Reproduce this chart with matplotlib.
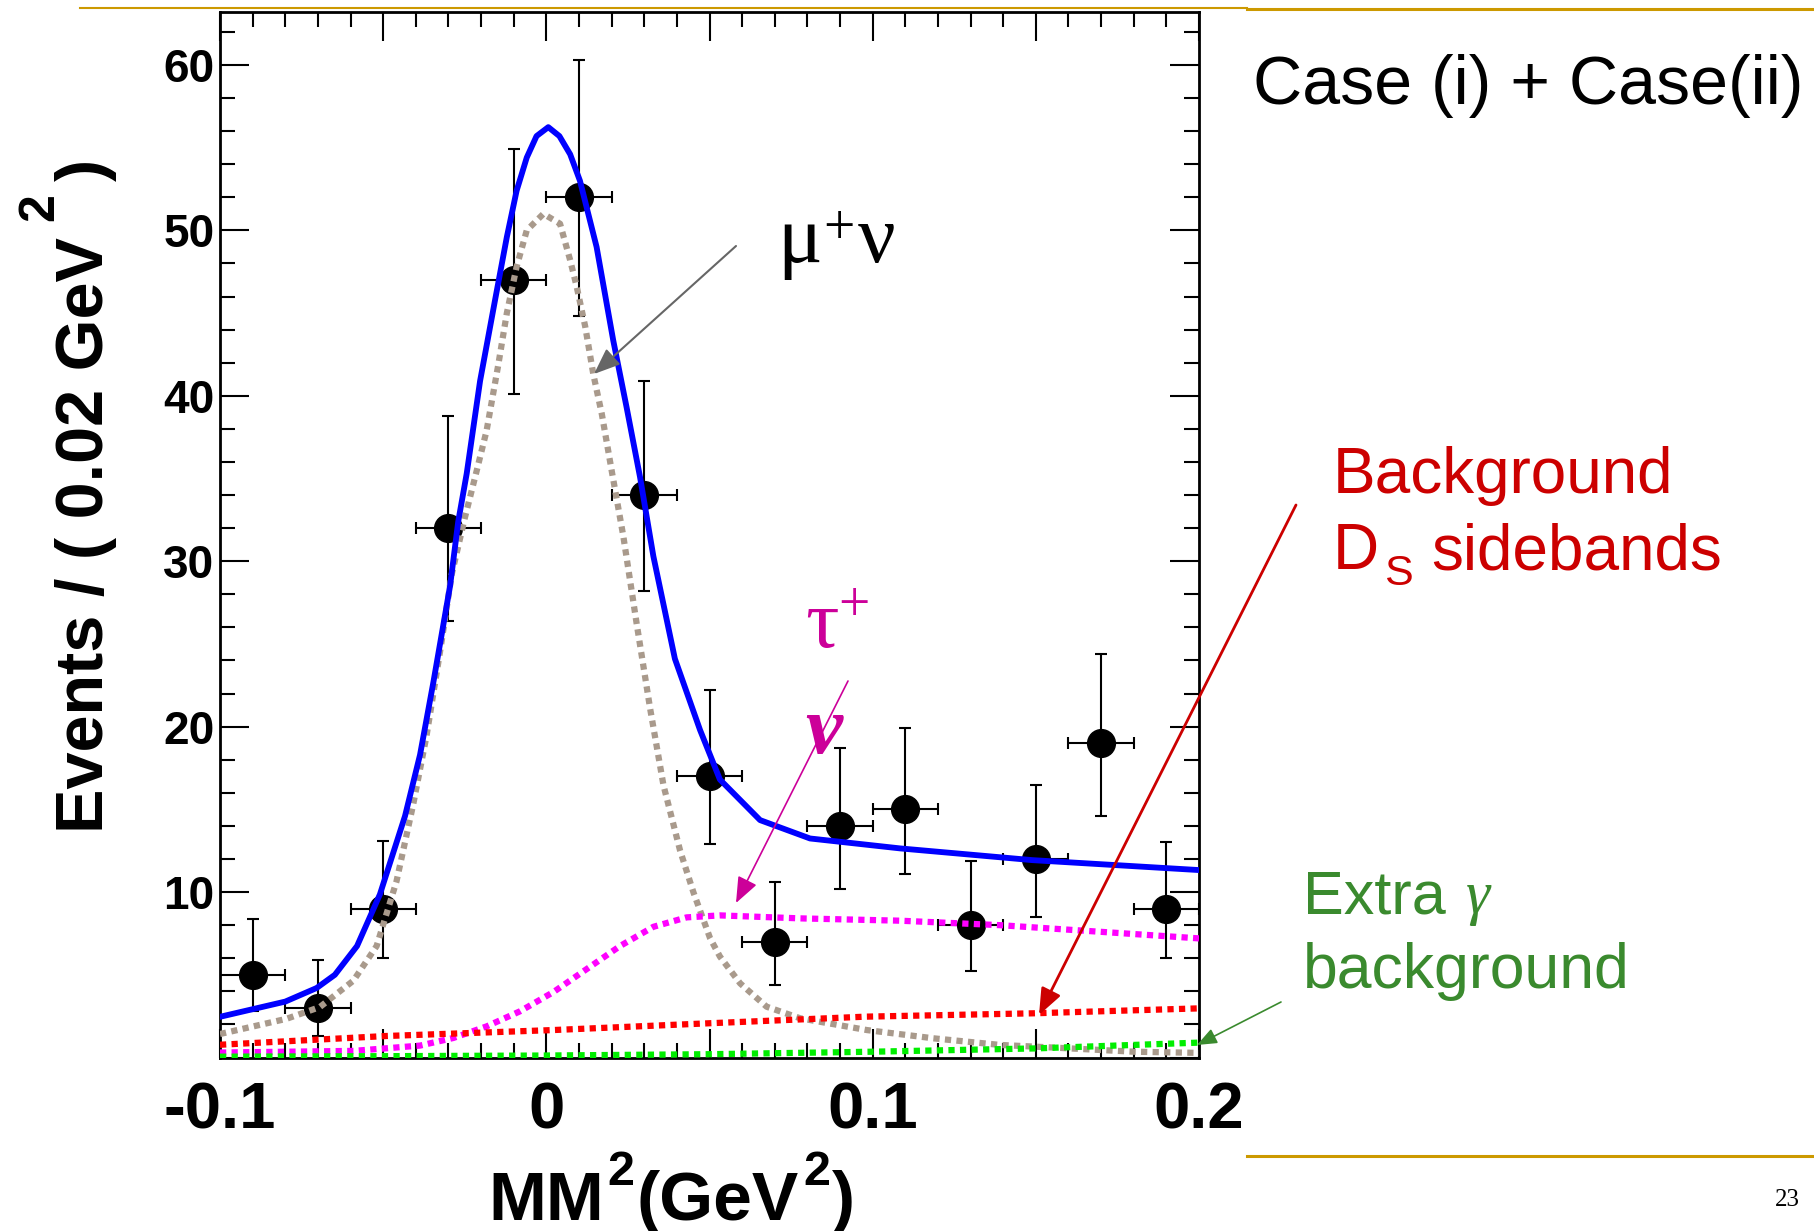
import matplotlib
matplotlib.use("Agg")
import matplotlib.pyplot as plt
from matplotlib.lines import Line2D
from matplotlib.patches import FancyArrowPatch
from matplotlib.ticker import FixedLocator, FixedFormatter, MultipleLocator
import numpy as np

plt.rcParams['font.family'] = ['Liberation Sans', 'DejaVu Sans']
plt.rcParams['axes.unicode_minus'] = False

# ── data ─────────────────────────────────────────────────────────────────────
bin_x = [-0.09, -0.07, -0.05, -0.03, -0.01, 0.01, 0.03, 0.05,
         0.07, 0.09, 0.11, 0.13, 0.15, 0.17, 0.19]
counts = [5, 3, 9, 32, 47, 52, 34, 17, 7, 14, 15, 8, 12, 19, 9]
err_top = [8.4, 5.9, 13.1, 38.8, 54.9, 60.3, 40.9, 22.2,
           10.6, 18.7, 19.9, 11.9, 16.5, 24.4, 13.0]
err_bot = [2.8, 1.3, 6.0, 26.4, 40.1, 44.8, 28.2, 12.9,
           4.4, 10.2, 11.1, 5.2, 8.5, 14.6, 6.0]

total_x = [-0.100, -0.080, -0.0704, -0.0648, -0.058, -0.051, -0.0433, -0.0387,
           -0.0346, -0.0295, -0.027, -0.0244, -0.0203, -0.0157, -0.0121,
           -0.0091, -0.006, -0.003, 0.0006, 0.004, 0.0073, 0.0103, 0.0154,
           0.0205, 0.0246, 0.0287, 0.0328, 0.0394, 0.0471, 0.0532, 0.0655,
           0.0808, 0.1084, 0.149, 0.200]
total_y = [2.46, 3.38, 4.2, 5.0, 6.74, 9.86, 14.6, 18.3,
           22.7, 28.5, 32.4, 35.3, 40.9, 45.8, 49.6,
           52.4, 54.4, 55.7, 56.24, 55.7, 54.6, 53.0, 49.0,
           43.35, 39.3, 35.1, 30.3, 24.1, 19.8, 16.8, 14.35,
           13.24, 12.64, 11.93, 11.33]

munu_x = [-0.100, -0.0796, -0.0694, -0.0591, -0.052, -0.0459, -0.0408, -0.0367,
          -0.0326, -0.029, -0.025, -0.0213, -0.0183, -0.0147, -0.0121, -0.0091,
          -0.006, -0.0009, 0.0042, 0.0073, 0.0093, 0.0119, 0.0144, 0.017,
          0.020, 0.0236, 0.0277, 0.0318, 0.0359, 0.041, 0.0451, 0.0502,
          0.0532, 0.0594, 0.0675, 0.0778, 0.0982, 0.1186, 0.139, 0.1595,
          0.180, 0.200]
munu_y = [1.42, 2.34, 3.05, 4.65, 6.74, 10.66, 15.3, 19.46,
          24.5, 29.2, 32.6, 35.5, 37.9, 41.9, 45.0, 47.8,
          50.0, 51.0, 50.4, 48.2, 46.6, 44.2, 41.3, 38.9,
          35.5, 31.5, 26.2, 21.1, 16.45, 12.5, 9.97, 7.2,
          6.1, 4.48, 3.07, 2.37, 1.66, 1.16, 0.76, 0.56,
          0.35, 0.28]

taunu_x = [-0.100, -0.059, -0.0387, -0.0285, -0.0183, -0.008, 0.0022, 0.0124,
           0.0226, 0.0328, 0.043, 0.0532, 0.0778, 0.1084, 0.139, 0.1697, 0.200]
taunu_y = [0.3, 0.4, 0.72, 1.18, 1.88, 2.8, 3.96, 5.35,
           6.74, 7.9, 8.47, 8.59, 8.41, 8.27, 8.0, 7.6, 7.2]

side_x = [-0.100, -0.049, 0.0022, 0.050, 0.098, 0.149, 0.200]
side_y = [0.77, 1.3, 1.66, 2.07, 2.47, 2.67, 2.97]

gam_x = [-0.100, -0.050, 0.000, 0.050, 0.100, 0.150, 0.200]
gam_y = [0.05, 0.08, 0.12, 0.20, 0.35, 0.55, 0.90]

x_ticks = [-0.1, -0.05, 0.0, 0.05, 0.1, 0.15, 0.2]
x_labels = ["-0.1", "", "0", "", "0.1", "", "0.2"]
y_ticks = [0, 10, 20, 30, 40, 50, 60]
y_labels = ["", "10", "20", "30", "40", "50", "60"]

# ── colours ──────────────────────────────────────────────────────────────────
BLUE = "#0000ff"
TAN = "#a99a8c"
MAGENTA = "#ff00ff"
RED = "#ff0000"
LIME = "#00ee00"
RED_TXT = "#cc0000"
MAG_TXT = "#cc0099"
GRN_TXT = "#3a8a2e"
GOLD = "#cc9900"
SERIF = ['Liberation Serif', 'DejaVu Serif']

W, H = 1814, 1231
def fx(x):
    return x / W
def fy(y):
    return 1 - y / H

fig = plt.figure(figsize=(W / 100, H / 100), dpi=100)
fig.patch.set_facecolor("white")
ax = fig.add_axes([fx(220), fy(1057.5), (1199 - 220) / W, (1057.5 - 12) / H])

# ── data points and fit curves ───────────────────────────────────────────────
cnt = np.array(counts, dtype=float)
ax.errorbar(bin_x, counts,
            yerr=[cnt - np.array(err_bot), np.array(err_top) - cnt],
            xerr=0.01, fmt='o', color='black', ms=20,
            elinewidth=1.5, capsize=4.3, capthick=1.5, zorder=2)

dots = (0, (1.0, 0.85))
ax.plot(munu_x, munu_y, color=TAN, lw=4.5, ls=dots, zorder=3)
ax.plot(taunu_x, taunu_y, color=MAGENTA, lw=4.5, ls=dots, zorder=3)
ax.plot(side_x, side_y, color=RED, lw=4.5, ls=dots, zorder=3)
ax.plot(gam_x, gam_y, color=LIME, lw=4.5, ls=dots, zorder=3)
ax.plot(total_x, total_y, color=BLUE, lw=4.2, zorder=4)

ax.set_xlim(-0.1, 0.2)
ax.set_ylim(0, 63.2)
ax.xaxis.set_major_locator(FixedLocator(x_ticks))
ax.xaxis.set_major_formatter(FixedFormatter(x_labels))
ax.xaxis.set_minor_locator(MultipleLocator(0.01))
ax.yaxis.set_major_locator(FixedLocator(y_ticks))
ax.yaxis.set_major_formatter(FixedFormatter(y_labels))
ax.yaxis.set_minor_locator(MultipleLocator(2))
ax.tick_params(which='both', direction='in', top=True, right=True, width=1.5)
ax.tick_params(which='major', length=21)
ax.tick_params(which='minor', length=11)
ax.tick_params(axis='x', which='major', pad=17, labelsize=47)
ax.tick_params(axis='y', which='major', pad=4, labelsize=33)
for lab in ax.get_xticklabels() + ax.get_yticklabels():
    lab.set_fontweight('bold')
for sp in ax.spines.values():
    sp.set_linewidth(2)

# ── text helpers ─────────────────────────────────────────────────────────────
def run_text(x, y, parts, vertical=False):
    """Place pieces one after another; rise and gap are in pixels."""
    r = fig.canvas.get_renderer()
    for s, size, rise, gap, kw in parts:
        if vertical:
            y -= gap
            t = fig.text(fx(x - rise), fy(y), s, fontsize=size, rotation=90,
                         rotation_mode='anchor', ha='left', va='baseline', **kw)
            y -= t.get_window_extent(r).height
        else:
            x += gap
            t = fig.text(fx(x), fy(y - rise), s, fontsize=size,
                         ha='left', va='baseline', **kw)
            x += t.get_window_extent(r).width

bold = dict(fontweight='bold')
run_text(103, 833, [("Events / ( 0.02 GeV", 48, 0, 0, bold),
                    ("2", 36, 50, 16, bold),
                    (")", 48, 0, 12, bold)], vertical=True)
run_text(488, 1220, [("MM", 50, 0, 0, bold), ("2", 35, 35, 4, bold),
                     ("(GeV", 50, 0, 2, bold), ("2", 35, 35, 4, bold),
                     (")", 50, 0, 2, bold)])

fig.text(fx(1253), fy(104), "Case (i) + Case(ii)", fontsize=49,
         ha='left', va='baseline', color='black')

red_kw = dict(color=RED_TXT)
fig.text(fx(1333), fy(493), "Background", fontsize=46, ha='left',
         va='baseline', color=RED_TXT)
run_text(1333, 569, [("D", 46, 0, 0, red_kw), ("S", 31, -16, 5, red_kw),
                     ("sidebands", 46, 0, 18, red_kw)])

grn_kw = dict(color=GRN_TXT)
run_text(1303, 913, [("Extra", 44, 0, 0, grn_kw),
                     ("γ", 44, 0, 20, dict(color=GRN_TXT, family=SERIF,
                                           style='italic'))])
fig.text(fx(1303), fy(988), "background", fontsize=45, ha='left',
         va='baseline', color=GRN_TXT)

ser_k = dict(family=SERIF, color='black')
run_text(777, 262, [("μ", 60, 0, 0, ser_k), ("+", 40, 18, 2, ser_k),
                     ("ν", 60, 0, 3, ser_k)])
ser_m = dict(family=SERIF, color=MAG_TXT)
run_text(805, 647, [("τ", 60, 0, 0, ser_m), ("+", 40, 26, 0, ser_m)])
fig.text(fx(805), fy(753), "ν", fontsize=60, ha='left', va='baseline',
         family=SERIF, color=MAG_TXT, fontweight='bold', style='italic')

fig.text(fx(1775), fy(1206), "23", fontsize=18, ha='left', va='baseline',
         family=SERIF, color='black')

# ── arrows ───────────────────────────────────────────────────────────────────
def arrow(p0, p1, color, lw, head=0.8):
    a = FancyArrowPatch((fx(p0[0]), fy(p0[1])), (fx(p1[0]), fy(p1[1])),
                        transform=fig.transFigure,
                        arrowstyle=f"-|>,head_length={head},head_width={head * 0.4}",
                        mutation_scale=20, color=color, lw=lw,
                        shrinkA=0, shrinkB=0, zorder=10)
    fig.add_artist(a)

arrow((736, 246), (594, 374), "#666666", 1.5)
arrow((848, 681), (736, 903), MAG_TXT, 1.2)
arrow((1296, 505), (1039, 1015), RED_TXT, 2.0)
arrow((1281, 1002), (1197, 1045), GRN_TXT, 1.2, head=0.6)

# ── slide decoration ─────────────────────────────────────────────────────────
fig.add_artist(Line2D([fx(80), fx(1247)], [fy(7.5), fy(7.5)],
                      transform=fig.transFigure, color=GOLD, lw=1.5))
fig.add_artist(Line2D([fx(1247), fx(1814)], [fy(9), fy(9)],
                      transform=fig.transFigure, color=GOLD, lw=2.2))
fig.add_artist(Line2D([fx(1247), fx(1814)], [fy(1156), fy(1156)],
                      transform=fig.transFigure, color=GOLD, lw=2.2))

fig.savefig("out.png", dpi=100, facecolor="white")
